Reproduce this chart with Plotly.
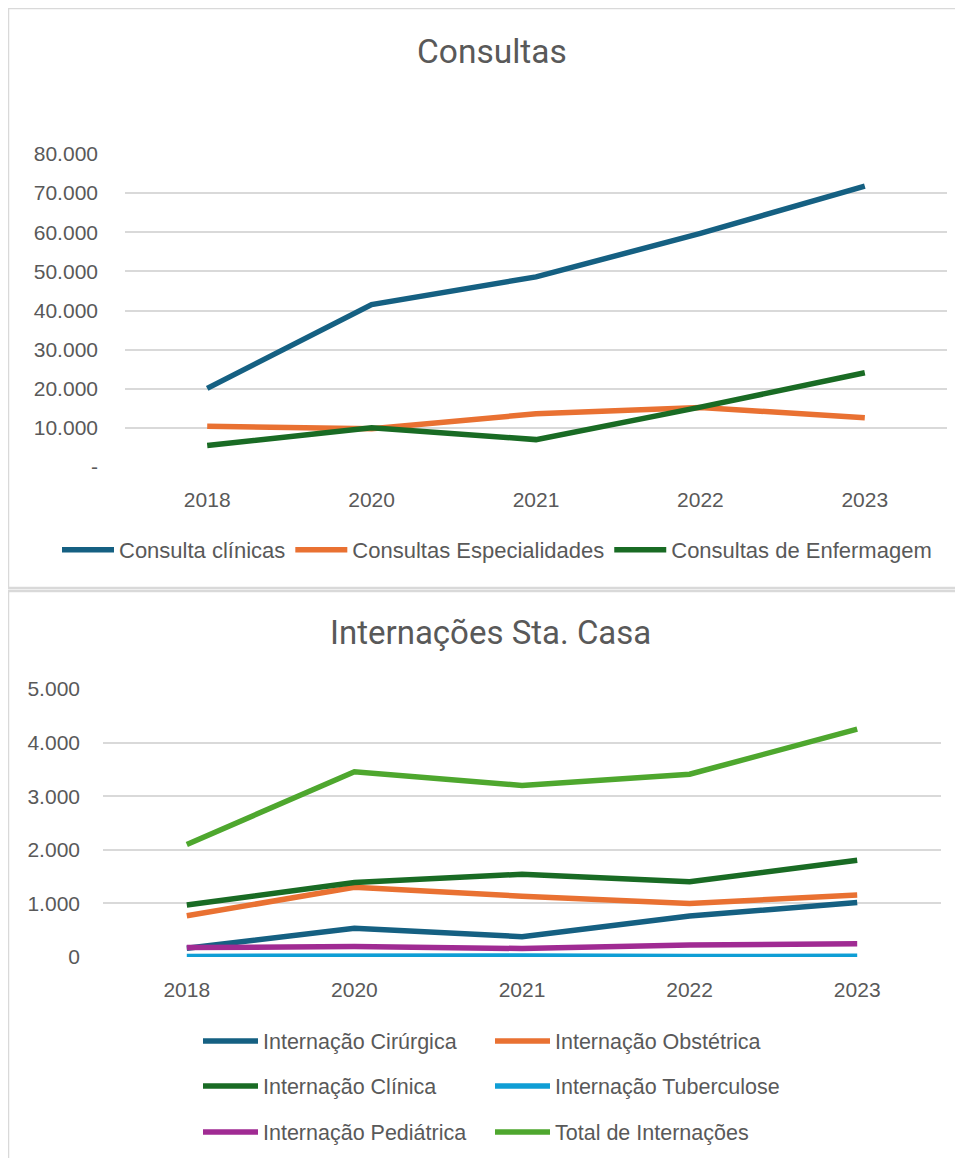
import plotly.graph_objects as go

W, H = 963, 1158

anos = ["2018", "2020", "2021", "2022", "2023"]

# Consultas
consulta_clinicas = [20100, 41500, 48600, 59700, 71800]
consultas_especialidades = [10400, 9800, 13600, 15200, 12600]
consultas_enfermagem = [5500, 10000, 7000, 15300, 24100]

# Internações
intern_cirurgica = [165, 535, 380, 765, 1015]
intern_obstetrica = [770, 1300, 1135, 1000, 1155]
intern_clinica = [970, 1390, 1545, 1405, 1805]
intern_tuberculose = [10, 25, 20, 8, 15]
intern_pediatrica = [175, 195, 158, 225, 248]
total_internacoes = [2100, 3455, 3200, 3410, 4250]

top_ticks = [0, 10000, 20000, 30000, 40000, 50000, 60000, 70000, 80000]
top_ticktext = ["-", "10.000", "20.000", "30.000", "40.000", "50.000", "60.000", "70.000", "80.000"]
bot_ticks = [0, 1000, 2000, 3000, 4000, 5000]
bot_ticktext = ["0", "1.000", "2.000", "3.000", "4.000", "5.000"]

C_BLUE = "#156082"
C_ORANGE = "#E97132"
C_DGREEN = "#196B24"
C_LBLUE = "#0F9ED5"
C_PURPLE = "#A02B93"
C_LGREEN = "#4EA72E"

LW = 5.5
TXT = "#595959"
GRID = "#d9d9d9"

# page body has an 8px margin: shift figure coordinates to compensate
OFF = 8

def px_x(p):
    return (p - OFF) / W

def px_y(p):
    return 1 - (p - OFF) / H

fig = go.Figure()

top_series = [
    ("Consulta clínicas", consulta_clinicas, C_BLUE),
    ("Consultas Especialidades", consultas_especialidades, C_ORANGE),
    ("Consultas de Enfermagem", consultas_enfermagem, C_DGREEN),
]
for name, vals, col in top_series:
    fig.add_trace(go.Scatter(
        x=anos, y=vals, name=name, mode="lines",
        line=dict(color=col, width=LW),
        xaxis="x", yaxis="y", legend="legend",
    ))

bot_series = [
    ("Internação Cirúrgica", intern_cirurgica, C_BLUE, "legend2"),
    ("Internação Obstétrica", intern_obstetrica, C_ORANGE, "legend2"),
    ("Internação Clínica", intern_clinica, C_DGREEN, "legend3"),
    ("Internação Tuberculose", intern_tuberculose, C_LBLUE, "legend3"),
    ("Internação Pediátrica", intern_pediatrica, C_PURPLE, "legend4"),
    ("Total de Internações", total_internacoes, C_LGREEN, "legend4"),
]
for name, vals, col, lg in bot_series:
    fig.add_trace(go.Scatter(
        x=anos, y=vals, name=name, mode="lines",
        line=dict(color=col, width=LW),
        xaxis="x2", yaxis="y2", legend=lg,
    ))

tickfont = dict(family="Liberation Sans, Arial, sans-serif", size=21, color=TXT)
legfont_top = dict(family="Liberation Sans, Arial, sans-serif", size=22, color=TXT)
legfont_bot = dict(family="Liberation Sans, Arial, sans-serif", size=21.5, color=TXT)

common_x = dict(type="category", range=[-0.5, 4.5], showgrid=False, zeroline=False,
                showline=False, ticks="", tickfont=tickfont, fixedrange=True)
common_y = dict(showgrid=True, gridcolor=GRID, gridwidth=2, zeroline=False,
                showline=False, ticks="", tickfont=tickfont, fixedrange=True)

def row_legend(ycenter):
    return dict(orientation="h", x=px_x(198), xanchor="left", y=px_y(ycenter), yanchor="middle",
                font=legfont_bot, itemwidth=55, entrywidth=222, entrywidthmode="pixels",
                bgcolor="rgba(0,0,0,0)", itemclick=False, itemdoubleclick=False)

fig.update_layout(
    width=W, height=H,
    margin=dict(l=0, r=0, t=0, b=0, autoexpand=False),
    paper_bgcolor="white", plot_bgcolor="white",
    showlegend=True,
    xaxis=dict(domain=[px_x(125), px_x(947)], anchor="y", ticklabelstandoff=18, **common_x),
    yaxis=dict(domain=[px_y(467), px_y(154)], anchor="x", range=[0, 80000],
               tickvals=top_ticks, ticktext=top_ticktext, ticklabelstandoff=26, **common_y),
    xaxis2=dict(domain=[px_x(103), px_x(941)], anchor="y2", ticklabelstandoff=18, **common_x),
    yaxis2=dict(domain=[px_y(957), px_y(689)], anchor="x2", range=[0, 5000],
                tickvals=bot_ticks, ticktext=bot_ticktext, ticklabelstandoff=22, **common_y),
    legend=dict(orientation="h", x=px_x(497), xanchor="center", y=px_y(550), yanchor="middle",
                font=legfont_top, itemwidth=52, bgcolor="rgba(0,0,0,0)",
                itemclick=False, itemdoubleclick=False),
    legend2=row_legend(1041),
    legend3=row_legend(1086),
    legend4=row_legend(1132),
    annotations=[
        dict(text="Consultas", x=px_x(492), y=px_y(52), xref="paper", yref="paper",
             xanchor="center", yanchor="middle", showarrow=False,
             font=dict(family="Roboto, Arial, sans-serif", size=33.5, color=TXT)),
        dict(text="Internações Sta. Casa", x=px_x(491), y=px_y(632), xref="paper", yref="paper",
             xanchor="center", yanchor="middle", showarrow=False,
             font=dict(family="Roboto, Arial, sans-serif", size=33, color=TXT)),
    ],
    shapes=[
        dict(type="rect", xref="paper", yref="paper", x0=px_x(8), x1=px_x(990),
             y0=px_y(588), y1=px_y(8), line=dict(color=GRID, width=2.5), layer="below"),
        dict(type="rect", xref="paper", yref="paper", x0=px_x(8), x1=px_x(990),
             y0=px_y(1190), y1=px_y(591), line=dict(color=GRID, width=2.5), layer="below"),
    ],
)

fig.write_html("out.html")
